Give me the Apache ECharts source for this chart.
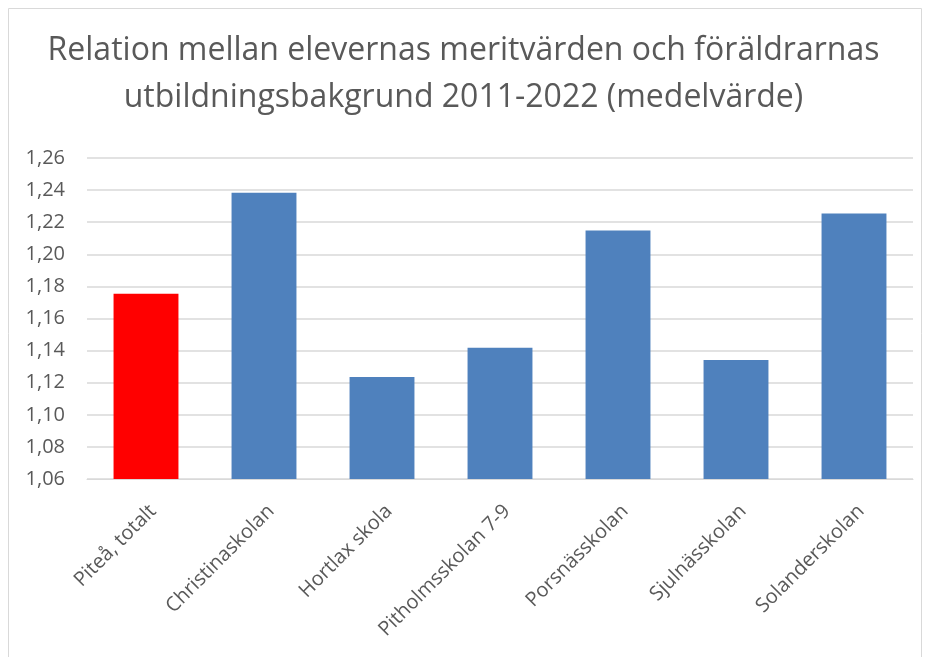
<!DOCTYPE html>
<html>
<head>
<meta charset="utf-8">
<script src="https://cdn.jsdelivr.net/npm/echarts@6/dist/echarts.min.js"></script>
<style>
  html, body { margin: 0; padding: 0; background: #fff; }
  #chart { width: 927px; height: 657px; }
</style>
</head>
<body>
<div id="chart"></div>
<script>
// skolor och medelvärden
const schools = ['Piteå, totalt', 'Christinaskolan', 'Hortlax skola', 'Pitholmsskolan 7-9', 'Porsnässkolan', 'Sjulnässkolan', 'Solanderskolan'];
const values = [1.1754, 1.2383, 1.1236, 1.1417, 1.2148, 1.1342, 1.2254];
const barColors = ['#ff0000', '#4f81bd', '#4f81bd', '#4f81bd', '#4f81bd', '#4f81bd', '#4f81bd'];

const chart = echarts.init(document.getElementById('chart'));
const font = 'Open Sans, Liberation Sans, sans-serif';

const option = {
  animation: false,
  textStyle: { fontFamily: font },
  title: {
    text: 'Relation mellan elevernas meritvärden och föräldrarnas\nutbildningsbakgrund 2011-2022 (medelvärde)',
    left: 'center',
    top: 22,
    textStyle: { fontSize: 32, fontWeight: 'normal', color: '#595959', lineHeight: 47, fontFamily: font }
  },
  graphic: [{
    type: 'rect',
    shape: { x: 8.5, y: 8.5, width: 913, height: 680 },
    style: { fill: 'none', stroke: '#d9d9d9', lineWidth: 1 },
    silent: true
  }],
  grid: { left: 87, right: 14, top: 158, bottom: 178 },
  xAxis: {
    type: 'category',
    data: schools,
    axisLine: { lineStyle: { color: '#d9d9d9', width: 1 } },
    axisTick: { show: false },
    axisLabel: { rotate: 45, fontSize: 20, color: '#595959', margin: 22, verticalAlign: 'top', interval: 0 }
  },
  yAxis: {
    type: 'value',
    min: 1.06,
    max: 1.26,
    interval: 0.02,
    axisLine: { show: false },
    axisTick: { show: false },
    splitLine: { lineStyle: { color: '#d9d9d9', width: 1.5 } },
    axisLabel: {
      fontSize: 20,
      color: '#595959',
      margin: 22,
      formatter: v => v.toFixed(2).replace('.', ',')
    }
  },
  series: [{
    type: 'bar',
    barWidth: '55%',
    data: values.map((v, i) => ({ value: v, itemStyle: { color: barColors[i] } }))
  }]
};

chart.setOption(option);
</script>
</body>
</html>
